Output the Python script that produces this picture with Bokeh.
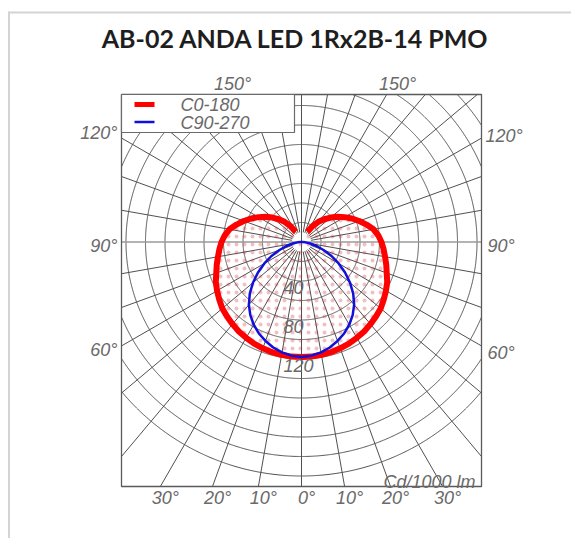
import numpy as np
from bokeh.plotting import figure
from bokeh.models import Range1d
from bokeh.embed import file_html
from bokeh.resources import INLINE
from bokeh.core.properties import value

# ---------------- data ----------------
title_text = "AB-02 ANDA LED 1Rx2B-14 PMO"
unit_text = "Cd/1000 lm"
legend_names = ["C0-180", "C90-270"]

# gamma angles (deg from nadir) and intensities in cd/1000 lm
c0_angles = [0, 5, 10, 15, 20, 25, 30, 35, 40, 45, 50, 55, 60, 65, 70, 75,
             80, 85, 90, 95, 100, 105, 110, 115, 120, 125, 130, 135, 140, 145, 150]
c0_values = [118, 118, 117.5, 117, 116, 115, 113.5, 112, 110, 108, 106, 103, 100, 97, 93, 90,
             87, 84.5, 82, 79, 75, 69, 63, 57, 51, 45, 39, 33, 27, 20, 12]

c90_angles = [0, 5, 10, 15, 20, 25, 30, 35, 40, 45, 50, 55, 60, 65, 70, 75,
              80, 85, 90, 95, 100, 120, 150, 180]
c90_values = [118, 117, 115, 112, 108, 103.5, 98, 91.5, 84, 75, 65, 54.5, 44, 34, 24, 16,
              9, 4, 1, 0, 0, 0, 0, 0]

ring_values = [20, 40, 60, 80, 100, 120, 140, 160, 180, 200, 220, 240]
ring_labels = [40, 80, 120]
side_labels = [150, 120, 90, 60]
bottom_labels = [30, 20, 10, 0, 10, 20, 30]

# ---------------- geometry ----------------
PX = 0.975              # pixels per cd/klm
W, H = 571, 538
CX, CY = 301.0, 241.5   # pixel position of the pole

def dx(px):
    return (px - CX) / PX

def dy(py):
    return (CY - py) / PX

BL, BR, BT, BB = dx(121), dx(481), dy(94), dy(486)

p = figure(width=W, height=H, output_backend="svg", toolbar_location=None,
           x_range=Range1d(dx(0), dx(W)), y_range=Range1d(dy(H), dy(0)),
           x_axis_type=None, y_axis_type=None, min_border=0)
p.grid.visible = False
p.outline_line_color = None
p.background_fill_color = "white"
p.border_fill_color = "white"

GRID = "#505050"
LBL = "#6a6a6a"
FONT = value("Liberation Sans")
FS = "18px"

# card border
p.line([dx(8.5), dx(8.5)], [dy(11), dy(560)], line_color="#d4d4d4", line_width=2)
p.line([dx(8), dx(600)], [dy(12), dy(12)], line_color="#d4d4d4", line_width=2)

# concentric circles clipped to the box
t = np.radians(np.arange(0, 360.01, 0.25))
cx_all, cy_all = [], []
for r in ring_values:
    xs = r * np.sin(t)
    ys = r * np.cos(t)
    inside = (xs >= BL) & (xs <= BR) & (ys >= BB) & (ys <= BT)
    xs = np.where(inside, xs, np.nan)
    ys = np.where(inside, ys, np.nan)
    cx_all += list(xs) + [np.nan]
    cy_all += list(ys) + [np.nan]
p.line(cx_all, cy_all, line_color=GRID, line_width=1)

# radial lines every 10 degrees
rx, ry = [], []
for a in range(0, 360, 10):
    if a % 90 == 0:
        continue
    ar = np.radians(a)
    ux, uy = np.sin(ar), -np.cos(ar)
    ts = []
    ts.append(BR / ux if ux > 0 else BL / ux)
    ts.append(BT / uy if uy > 0 else BB / uy)
    tend = min(ts)
    r0 = 10
    rx += [r0 * ux, tend * ux, np.nan]
    ry += [r0 * uy, tend * uy, np.nan]
p.line(rx, ry, line_color=GRID, line_width=1)

# main axes
p.line([0, 0], [BB, BT], line_color=GRID, line_width=1)
p.line([BL, BR], [0, 0], line_color="#9a9a9a", line_width=1.6)

# box
p.quad(left=BL, right=BR, bottom=BB, top=BT, fill_color=None,
       line_color="#5a5a5a", line_width=1.3)

def polar(angles, vals):
    a = np.radians(np.array(angles, dtype=float))
    v = np.array(vals, dtype=float)
    xl = -(v * np.sin(a))[::-1]
    yl = -(v * np.cos(a))[::-1]
    xr = (v * np.sin(a))[1:]
    yr = -(v * np.cos(a))[1:]
    return np.concatenate([xl, xr]), np.concatenate([yl, yr])

rxs, rys = polar(c0_angles, c0_values)
bxs, bys = polar(c90_angles, c90_values)

# dotted fill of C0-180 area
p.patch(list(rxs) + [0], list(rys) + [0], fill_color=None, line_color=None,
        hatch_pattern="dot", hatch_color="#d03030", hatch_alpha=0.3,
        hatch_scale=8, hatch_weight=0.6)

p.line(rxs, rys, line_color="#ff0000", line_width=6)
p.line(bxs, bys, line_color="#1010dd", line_width=2.5)

# legend box
p.quad(left=dx(121), right=dx(294), bottom=dy(132), top=dy(94),
       fill_color="white", line_color="#6a6a6a", line_width=1.2)
p.quad(left=dx(134), right=dx(154), bottom=dy(106.5), top=dy(101.5),
       fill_color="#ff0000", line_color=None)
p.line([dx(134), dx(154)], [dy(121.5), dy(121.5)], line_color="#1010dd", line_width=2.5)
p.text(x=[dx(180), dx(180)], y=[dy(104.5), dy(122.5)], text=legend_names,
       text_font=FONT, text_font_style="italic", text_font_size=FS,
       text_color=LBL, text_align="left", text_baseline="middle")

# title
p.text(x=[dx(295)], y=[dy(37)], text=[title_text], text_font=value("Lato"),
       text_font_style="bold", text_font_size="25px", text_color="#1e1e1e",
       text_align="center", text_baseline="middle")

# ring labels
p.text(x=[dx(283)] * len(ring_labels), y=[-v for v in ring_labels],
       text=[str(v) for v in ring_labels], text_font=FONT,
       text_font_style="italic", text_font_size=FS, text_color=LBL,
       text_align="left", text_baseline="top")

# unit label
p.text(x=[dx(475)], y=[dy(481)], text=[unit_text], text_font=FONT,
       text_font_style="italic", text_font_size=FS, text_color=LBL,
       text_align="right", text_baseline="alphabetic")

# side angle labels
side_pos_left = {150: (232, 83, "center"), 120: (117, 132, "right"),
                 90: (117, 245, "right"), 60: (117, 349, "right")}
side_pos_right = {150: (397, 83, "center"), 120: (485, 135, "left"),
                  90: (487, 245, "left"), 60: (487, 352, "left")}
for a in side_labels:
    for pos in (side_pos_left[a], side_pos_right[a]):
        p.text(x=[dx(pos[0])], y=[dy(pos[1])], text=[f"{a}°"], text_font=FONT,
               text_font_style="italic", text_font_size=FS, text_color=LBL,
               text_align=pos[2], text_baseline="middle")

# bottom angle labels
signs = [-1, -1, -1, 0, 1, 1, 1]
bx = [s * (-BB) * np.tan(np.radians(a)) + dx(CX + 5) for s, a in zip(signs, bottom_labels)]
p.text(x=bx, y=[dy(497.5)] * len(bx), text=[f"{a}°" for a in bottom_labels],
       text_font=FONT, text_font_style="italic", text_font_size=FS,
       text_color=LBL, text_align="center", text_baseline="middle")

open("out.html", "w").write(file_html(p, INLINE))
